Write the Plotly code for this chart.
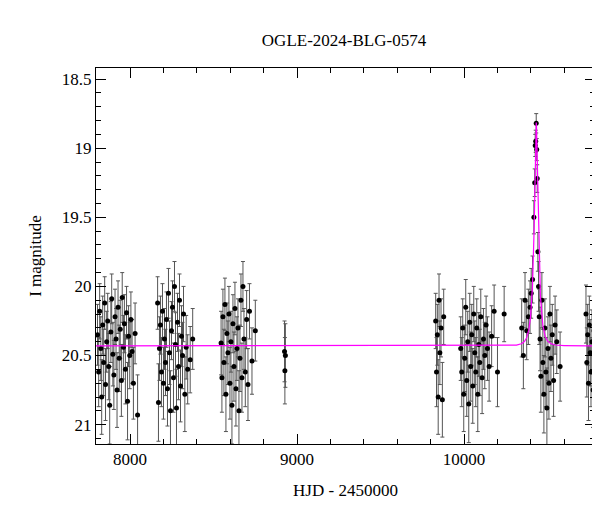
import numpy as np
import plotly.graph_objects as go

# OGLE photometry (HJD-2450000, I mag, error)
hjd = [
    7805, 7812, 7818, 7825, 7830, 7836, 7842, 7848, 7853, 7860, 7866, 7872, 7878, 7885, 7890, 7897,
    7903, 7910, 7916, 7922, 7928, 7935, 7941, 7948, 7953, 7960, 7966, 7972, 7979, 7985, 7991, 7998,
    8005, 8012, 8020, 8030, 8045,
    8165, 8170, 8176, 8182, 8188, 8194, 8200, 8206, 8212, 8218, 8224, 8230, 8236, 8242, 8248, 8254,
    8260, 8266, 8272, 8278, 8284, 8290, 8296, 8302, 8308, 8314, 8320, 8328, 8336, 8345, 8360, 8375,
    8545, 8550, 8556, 8562, 8568, 8574, 8580, 8586, 8592, 8598, 8604, 8610, 8616, 8622, 8628, 8634,
    8640, 8646, 8652, 8658, 8664, 8670, 8676, 8682, 8690, 8698, 8706, 8715, 8730, 8750,
    8925, 8927, 8930,
    9830, 9835, 9840, 9845, 9850, 9855, 9862, 9870, 9878,
    9980, 9986, 9992, 9998, 10004, 10010, 10016, 10022, 10028, 10034, 10040, 10046, 10052, 10058,
    10064, 10070, 10076, 10082, 10088, 10094, 10100, 10108, 10116, 10124, 10132, 10140, 10150,
    10165, 10180, 10200, 10240,
    10345, 10355, 10365, 10375, 10385, 10395, 10402, 10410, 10418, 10423, 10426, 10429, 10432,
    10435, 10438, 10442, 10446, 10450, 10455, 10460, 10466, 10472, 10478, 10484, 10490, 10496,
    10502, 10508, 10514, 10520, 10528, 10536, 10545, 10555, 10575,
    10730, 10735, 10740, 10745, 10750, 10755, 10760, 10766, 10772, 10778,
]
mag = [
    20.35, 20.62, 20.18, 20.45, 20.80, 20.28, 20.55, 20.12, 20.71, 20.40, 20.25, 20.58, 20.86, 20.33, 20.09, 20.49,
    20.64, 20.22, 20.38, 20.75, 20.15, 20.52, 20.31, 20.68, 20.08, 20.44, 20.27, 20.60, 20.19, 20.83, 20.36, 20.50,
    20.24, 20.47, 20.70, 20.34, 20.93,
    20.12, 20.84, 20.45, 20.28, 20.62, 20.18, 20.70, 20.38, 20.55, 20.24, 20.74, 20.05, 20.48, 20.90, 20.32, 20.15,
    20.66, 20.00, 20.42, 20.88, 20.26, 20.58, 20.10, 20.72, 20.36, 20.50, 20.20, 20.78, 20.44, 20.60, 20.53, 20.38,
    20.41, 20.66, 20.22, 20.55, 20.13, 20.78, 20.34, 20.48, 20.20, 20.70, 20.40, 20.86, 20.27, 20.58, 20.16, 20.74,
    20.45, 20.30, 20.90, 20.52, 20.10, 20.66, 20.00, 20.38, 20.62, 20.24, 20.71, 20.18, 20.54, 20.32,
    20.47, 20.61, 20.50,
    20.25, 20.62, 20.35, 20.80, 20.10, 20.48, 20.30, 20.82, 20.22,
    20.45, 20.62, 20.30, 20.78, 20.52, 20.15, 20.68, 20.40, 20.85, 20.26, 20.58, 20.35, 20.72, 20.20,
    20.48, 20.62, 20.30, 20.78, 20.42, 20.55, 20.22, 20.66, 20.38, 20.50, 20.28, 20.45, 20.58,
    20.36, 20.18, 20.62, 20.20,
    20.30, 20.50, 20.10, 20.32, 20.22, 20.15, 20.05, 19.95, 19.50, 19.25, 18.98, 18.95, 18.82,
    19.01, 19.22, 19.75, 20.00, 20.22, 20.38, 20.65, 20.10, 20.55, 20.78, 20.30, 20.62, 20.88,
    20.45, 20.70, 20.20, 20.52, 20.35, 20.68, 20.28, 20.40, 20.58,
    20.20, 20.55, 20.35, 20.70, 20.28, 20.48, 20.62, 20.40, 20.75, 20.32,
]
err = [
    0.22, 0.25, 0.20, 0.23, 0.27, 0.21, 0.24, 0.19, 0.26, 0.22, 0.20, 0.24, 0.28, 0.22, 0.18, 0.23,
    0.25, 0.20, 0.22, 0.27, 0.19, 0.24, 0.21, 0.26, 0.18, 0.23, 0.21, 0.25, 0.19, 0.28, 0.22, 0.24,
    0.20, 0.23, 0.26, 0.22, 0.29,
    0.19, 0.28, 0.23, 0.21, 0.25, 0.20, 0.26, 0.22, 0.24, 0.20, 0.27, 0.18, 0.23, 0.29, 0.21, 0.19,
    0.25, 0.18, 0.23, 0.28, 0.21, 0.24, 0.19, 0.26, 0.22, 0.24, 0.20, 0.27, 0.23, 0.25, 0.24, 0.22,
    0.23, 0.25, 0.20, 0.24, 0.19, 0.27, 0.22, 0.23, 0.20, 0.26, 0.22, 0.28, 0.21, 0.25, 0.19, 0.27,
    0.23, 0.21, 0.29, 0.24, 0.19, 0.25, 0.18, 0.22, 0.25, 0.21, 0.26, 0.20, 0.24, 0.22,
    0.22, 0.24, 0.23,
    0.20, 0.25, 0.22, 0.27, 0.19, 0.23, 0.21, 0.27, 0.20,
    0.23, 0.25, 0.21, 0.27, 0.24, 0.20, 0.26, 0.22, 0.28, 0.21, 0.25, 0.22, 0.27, 0.20,
    0.23, 0.25, 0.21, 0.27, 0.23, 0.24, 0.20, 0.26, 0.22, 0.24, 0.21, 0.23, 0.25,
    0.22, 0.19, 0.25, 0.20,
    0.21, 0.24, 0.20, 0.21, 0.20, 0.19, 0.18, 0.17, 0.12, 0.10, 0.08, 0.08, 0.07,
    0.08, 0.10, 0.14, 0.18, 0.20, 0.23, 0.26, 0.20, 0.24, 0.28, 0.21, 0.25, 0.29,
    0.23, 0.26, 0.20, 0.24, 0.22, 0.26, 0.21, 0.23, 0.25,
    0.21, 0.25, 0.22, 0.27, 0.21, 0.24, 0.25, 0.23, 0.27, 0.22,
]

# point-lens model parameters
t0, tE, u0, base_mag = 10432.0, 28.0, 0.23, 20.43

t = np.linspace(7780, 10800, 4000)
u = np.sqrt(u0**2 + ((t - t0) / tE) ** 2)
amp = (u**2 + 2) / (u * np.sqrt(u**2 + 4))
model = base_mag - 2.5 * np.log10(amp)

font = dict(family="Liberation Serif, DejaVu Serif, serif", size=17, color="black")

fig = go.Figure()
fig.add_trace(go.Scatter(
    x=hjd, y=mag, mode="markers",
    marker=dict(color="black", size=5),
    error_y=dict(type="data", array=err, color="#555555", thickness=1, width=2),
    showlegend=False,
))
fig.add_trace(go.Scatter(
    x=t, y=model, mode="lines",
    line=dict(color="#ff00ff", width=1.2),
    showlegend=False,
))

axis_common = dict(
    showgrid=False, zeroline=False, mirror="allticks", ticks="inside",
    showline=True, linecolor="black", linewidth=1, tickcolor="black",
    tickfont=font,
)
fig.update_xaxes(
    range=[7796, 10784], tick0=8000, dtick=1000, ticklen=10, tickformat="d",
    minor=dict(ticks="inside", dtick=200, ticklen=5, tickcolor="black"),
    title=dict(text="HJD - 2450000", font=font), **axis_common,
)
fig.update_yaxes(
    range=[21.14, 18.42], tick0=18.5, dtick=0.5, ticklen=10,
    minor=dict(ticks="inside", dtick=0.1, ticklen=5, tickcolor="black"),
    title=dict(text="I magnitude", font=font), **axis_common,
)
fig.update_layout(
    width=600, height=512,
    title=dict(text="OGLE-2024-BLG-0574", x=0.56, y=0.95, font=font),
    font=font,
    plot_bgcolor="white", paper_bgcolor="white",
    margin=dict(l=88, r=13, t=60, b=76),
)

fig.write_html("out.html")
